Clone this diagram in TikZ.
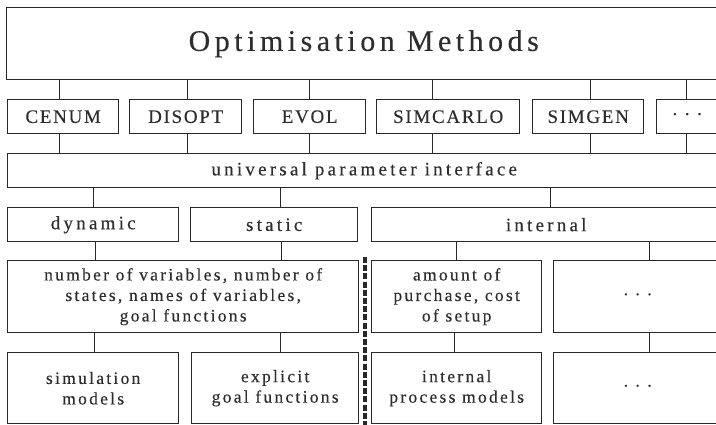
\documentclass[tikz,border=0pt]{standalone}
\usepackage{fontspec}
\setmainfont{Liberation Serif}
\newfontfamily\titlefont[LetterSpace=15,FakeBold=0.2]{Liberation Serif}
\newfontfamily\capsfont[LetterSpace=9,FakeBold=0.2]{Liberation Serif}
\newfontfamily\rowfont[LetterSpace=17,FakeBold=0.2]{Liberation Serif}
\newfontfamily\bodyfont[LetterSpace=13,FakeBold=0.2]{Liberation Serif}
\definecolor{ink}{RGB}{40,40,40}
\definecolor{txt}{RGB}{45,45,45}
\newcommand\moredots{·\hspace{6pt}·\hspace{6pt}·}
\tikzset{
  box/.style={draw=ink, line width=1.4pt, inner sep=0pt, anchor=north west,
    text=txt, align=center},
  wire/.style={draw=ink, line width=1.4pt},
  dashline/.style={draw=ink, line width=3.2pt, dash pattern=on 6pt off 2.2pt},
  toprow/.style={font=\titlefont\fontsize{30}{32}\selectfont},
  capsrow/.style={font=\capsfont\fontsize{19}{21}\selectfont},
  midrow/.style={font=\rowfont\fontsize{19}{21}\selectfont},
  lowrow/.style={font=\bodyfont\fontsize{17.5}{20.5}\selectfont},
}
\begin{document}
\begin{tikzpicture}[x=1pt,y=-1pt]
\useasboundingbox (0,0) rectangle (716,425);
\fill[white] (0,0) rectangle (716,425);

% method layer
\node[box, toprow, minimum width=714pt, minimum height=72pt] (om) at (6,7) {Optimisation Methods};
\node[box, capsrow, minimum width=111pt, minimum height=34pt] (cenum) at (7,99) {CENUM};
\node[box, capsrow, minimum width=112pt, minimum height=34pt] (disopt) at (129,99) {DISOPT};
\node[box, capsrow, minimum width=112pt, minimum height=34pt] (evol) at (253,99) {EVOL};
\node[box, capsrow, minimum width=143pt, minimum height=34pt] (simcarlo) at (376,99) {SIMCARLO};
\node[box, capsrow, minimum width=111pt, minimum height=34pt] (simgen) at (532,99) {SIMGEN};
\node[box, capsrow, minimum width=61pt, minimum height=34pt] (more) at (656,99) {\moredots};

% interface
\node[box, midrow, minimum width=713pt, minimum height=34pt] (upi) at (7,153) {universal parameter interface};

% parameter kinds
\node[box, midrow, minimum width=171pt, minimum height=34pt] (dyn) at (7,207) {dynamic};
\node[box, midrow, minimum width=167pt, minimum height=34pt] (stat) at (190,207) {static};
\node[box, midrow, minimum width=349pt, minimum height=34pt] (intl) at (371,207) {internal};

% parameter contents
\node[box, lowrow, minimum width=351pt, minimum height=72pt] (vars) at (7,260)
  {number of variables, number of\\states, names of variables,\\goal functions};
\node[box, lowrow, minimum width=170pt, minimum height=72pt] (amount) at (371,260)
  {amount of\\purchase, cost\\of setup};
\node[box, lowrow, minimum width=168pt, minimum height=72pt] (dotsa) at (553,260) {\moredots};

% models
\node[box, lowrow, minimum width=171pt, minimum height=71pt] (sim) at (7,352) {simulation\\models};
\node[box, lowrow, minimum width=167pt, minimum height=71pt] (expl) at (191,352) {explicit\\goal functions};
\node[box, lowrow, minimum width=170pt, minimum height=71pt] (ipm) at (371,352) {internal\\process models};
\node[box, lowrow, minimum width=168pt, minimum height=71pt] (dotsb) at (553,352) {\moredots};

% connectors: methods
\foreach \n/\d in {cenum/-3.5, disopt/2, evol/0, simcarlo/-15.5, simgen/2.5, more/-0.5}{
  \draw[wire] ([xshift=\d pt]\n.north) -- ([xshift=\d pt]\n.north |- om.south);
  \draw[wire] ([xshift=\d pt]\n.south) -- ([xshift=\d pt]\n.south |- upi.north);
}
% connectors: interface to kinds
\draw[wire] ([xshift=0.5pt]dyn.north) -- ([xshift=0.5pt]dyn.north |- upi.south);
\draw[wire] ([xshift=6.5pt]stat.north) -- ([xshift=6.5pt]stat.north |- upi.south);
\draw[wire] ([xshift=4.5pt]intl.north) -- ([xshift=4.5pt]intl.north |- upi.south);
% connectors: kinds to contents
\draw[wire] ([xshift=2.5pt]dyn.south) -- ([xshift=2.5pt]dyn.south |- vars.north);
\draw[wire] ([xshift=7.5pt]stat.south) -- ([xshift=7.5pt]stat.south |- vars.north);
\draw[wire] (amount.north) -- (amount.north |- intl.south);
\draw[wire] ([xshift=12pt]dotsa.north) -- ([xshift=12pt]dotsa.north |- intl.south);
% connectors: contents to models
\draw[wire] ([xshift=1.5pt]sim.north) -- ([xshift=1.5pt]sim.north |- vars.south);
\draw[wire] ([xshift=5.5pt]expl.north) -- ([xshift=5.5pt]expl.north |- vars.south);
\draw[wire] ([xshift=-2pt]ipm.north) -- ([xshift=-2pt]ipm.north |- amount.south);
\draw[wire] ([xshift=12pt]dotsb.north) -- ([xshift=12pt]dotsb.north |- dotsa.south);

% separator between user-defined and internal parameters
\coordinate (septop) at (365,257);
\coordinate (sepbot) at (365,425);
\draw[dashline] (septop) -- (sepbot);
\end{tikzpicture}
\end{document}
